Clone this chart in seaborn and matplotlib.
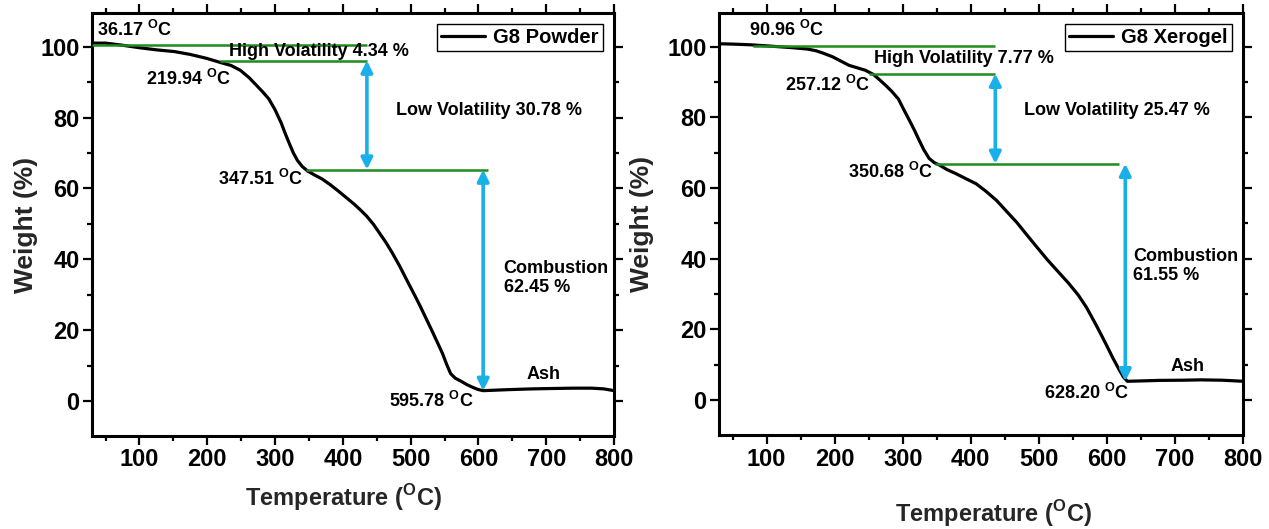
import matplotlib
matplotlib.use("Agg")
import matplotlib.pyplot as plt
import numpy as np
import pandas as pd
import seaborn as sns
from matplotlib import font_manager
from matplotlib.font_manager import FontProperties
from matplotlib.ticker import MultipleLocator

# ---- TGA curves (temperature in °C, weight in %) ----
powder_temp = [30, 50, 75, 100, 125, 152, 175, 199, 220, 235, 249, 262, 273, 282, 291,
               300, 309, 315, 321, 327, 333, 340, 348, 358, 369, 381, 393, 405, 417, 426,
               435, 445, 454, 463, 472, 484, 496, 505, 514, 523, 532, 540, 547, 553, 559,
               566, 574, 583, 592, 600, 607, 620, 646, 680, 707, 740, 767, 785, 800]
powder_weight = [101.0, 101.0, 100.4, 99.7, 99.1, 98.6, 97.8, 96.7, 95.5, 94.7, 93.3, 91.2,
                 89.0, 87.2, 85.2, 82.2, 78.5, 75.5, 72.7, 70.0, 67.9, 66.2, 64.9, 63.8, 62.7,
                 61.1, 59.3, 57.4, 55.5, 53.9, 52.2, 49.9, 47.4, 44.9, 42.1, 38.0, 33.5, 30.2,
                 26.8, 23.2, 19.6, 16.3, 13.4, 10.4, 7.7, 6.4, 5.6, 4.6, 3.8, 3.2, 2.9, 3.0,
                 3.2, 3.4, 3.5, 3.6, 3.6, 3.4, 2.9]

xerogel_temp = [30, 50, 77, 100, 137, 160, 173, 185, 197, 209, 221, 233, 245, 257, 266, 275,
                284, 293.5, 302, 311.5, 318, 323.6, 331, 338.6, 346, 353.6, 365, 377.6, 392,
                407.7, 422, 437.7, 452, 467.8, 482, 497.8, 512, 527.9, 543, 557.9, 570, 582,
                591, 600, 609, 618, 624, 630, 650, 678, 710, 738, 770, 800]
xerogel_weight = [100.8, 100.7, 100.5, 100.2, 99.7, 99.3, 98.8, 98.0, 97.1, 95.9, 94.7, 94.0,
                  93.3, 92.1, 90.6, 89.0, 87.3, 85.2, 82.0, 78.5, 76.0, 73.7, 70.8, 68.4, 67.2,
                  66.5, 65.2, 64.1, 62.7, 61.2, 59.1, 56.5, 53.5, 50.2, 46.8, 43.1, 39.8, 36.4,
                  33.2, 29.7, 26.2, 22.0, 18.7, 15.3, 11.8, 8.6, 6.6, 5.3, 5.4, 5.55, 5.6, 5.7,
                  5.6, 5.3]

# ---- decomposition stages ----
stage_names = ["High Volatility", "Low Volatility", "Combustion"]
powder_onsets = [36.17, 219.94, 347.51, 595.78]
powder_losses = [4.34, 30.78, 62.45]
powder_ash = 2.85
xerogel_onsets = [90.96, 257.12, 350.68, 628.20]
xerogel_losses = [7.77, 25.47, 61.55]
xerogel_ash = 5.3
legend_names = ["G8 Powder", "G8 Xerogel"]


def pick(families):
    for fam in families:
        try:
            font_manager.findfont(FontProperties(family=fam), fallback_to_default=False)
            return fam
        except ValueError:
            continue
    return "DejaVu Sans"


NARROW = pick(["Liberation Sans Narrow", "Arial Narrow", "Liberation Sans"])
WIDE = pick(["Liberation Sans", "Arial"])
is_narrow = "Narrow" in NARROW
TICK_SIZE = 20 if is_narrow else 17
ANN_SIZE = 15 if is_narrow else 13

sns.set_theme(style="ticks")
plt.rcParams.update({
    "font.family": [NARROW, "DejaVu Sans"],
    "font.weight": "bold",
    "axes.linewidth": 2.2,
    "axes.edgecolor": "black",
    "xtick.color": "black",
    "ytick.color": "black",
    "text.color": "black",
})

GREEN = "#1e8c1e"
CYAN = "#19b0ea"
SUP = r"$^{\mathregular{O}}$"

fig = plt.figure(figsize=(12.69, 5.29), dpi=100)
W, H = 1269, 529
axL = fig.add_axes([92 / W, 1 - 436 / H, 522 / W, 423 / H])
axR = fig.add_axes([719 / W, 1 - 435 / H, 524 / W, 422 / H])


def panel(ax, temp, weight, name, onsets, losses, ash, layout):
    df = pd.DataFrame({"Temperature": temp, "Weight": weight})
    sns.lineplot(data=df, x="Temperature", y="Weight", ax=ax, color="black",
                 lw=2.3, sort=False, estimator=None, label=name)

    lv3 = ash + losses[2]
    lv2 = lv3 + losses[1]
    lv1 = lv2 + losses[0]

    # plateau guide lines
    for lvl, (x0, x1) in zip([lv1, lv2, lv3], layout["guides"]):
        ax.hlines(lvl, x0, x1, color=GREEN, lw=1.8, zorder=3)

    # mass-loss arrows
    for (xa, top, bot) in [(layout["arrows"][0], lv2, lv3), (layout["arrows"][1], lv3, ash)]:
        ax.annotate("", xy=(xa, bot), xytext=(xa, top),
                    arrowprops=dict(arrowstyle="<|-|>", color=CYAN, lw=2.6,
                                    mutation_scale=17, shrinkA=0, shrinkB=0),
                    zorder=4)

    # temperature labels
    for t, (tx, ty) in zip(onsets, layout["temps"]):
        ax.text(tx, ty, f"{t:.2f} " + SUP + "C", fontsize=ANN_SIZE, ha="left", va="center")

    # stage labels
    hx, hy = layout["high"]
    ax.text(hx, hy, f"{stage_names[0]} {losses[0]:.2f} %", fontsize=ANN_SIZE,
            ha="left", va="center")
    lx, ly = layout["low"]
    ax.text(lx, ly, f"{stage_names[1]} {losses[1]:.2f} %", fontsize=ANN_SIZE,
            ha="left", va="center")
    cx, cy = layout["comb"]
    ax.text(cx, cy, f"{stage_names[2]}\n{losses[2]:.2f} %", fontsize=ANN_SIZE,
            ha="left", va="center", linespacing=1.15)
    ax.text(*layout["ash"], "Ash", fontsize=ANN_SIZE, ha="left", va="center")

    ax.set_xlim(30, 800)
    ax.set_ylim(-9.9, 109.5)
    ax.xaxis.set_major_locator(MultipleLocator(100))
    ax.xaxis.set_minor_locator(MultipleLocator(50))
    ax.yaxis.set_major_locator(MultipleLocator(20))
    ax.yaxis.set_minor_locator(MultipleLocator(10))
    ax.tick_params(which="both", direction="out", top=True, right=True, width=1.6,
                   labelsize=TICK_SIZE)
    ax.tick_params(which="major", length=6.5, pad=2.5)
    ax.tick_params(which="minor", length=3.5)
    for s in ax.spines.values():
        s.set_linewidth(2.2)

    ax.set_xlabel("Temperature (" + SUP + "C)", fontfamily=WIDE, fontweight="bold",
                  fontsize=17)
    ax.set_ylabel("Weight (%)", fontfamily=WIDE, fontweight="bold", fontsize=19)

    leg = ax.legend(loc="upper right", bbox_to_anchor=(1 - 11 / 522, 1 - 11 / 423),
                    borderaxespad=0, frameon=True, fancybox=False, edgecolor="black",
                    framealpha=1, borderpad=0.2, handlelength=2.2, handletextpad=0.4,
                    prop=FontProperties(family=WIDE, weight="bold", size=14.5))
    leg.get_frame().set_linewidth(1.0)


panel(axL, powder_temp, powder_weight, legend_names[0], powder_onsets, powder_losses,
      powder_ash,
      dict(guides=[(30, 435.5), (218.7, 435.5), (345, 614)],
           arrows=[435.5, 607],
           temps=[(38, 104.6), (110, 90.9), (215.7, 62.7), (468.7, 0.0)],
           high=(232.5, 98.6), low=(477.7, 82.0), comb=(637.3, 34.7), ash=(670.5, 7.5)))

panel(axR, xerogel_temp, xerogel_weight, legend_names[1], xerogel_onsets, xerogel_losses,
      xerogel_ash,
      dict(guides=[(80, 436), (251, 436), (347.6, 618)],
           arrows=[436, 627],
           temps=[(74, 104.6), (126.4, 89.2), (220, 64.6), (506.9, 1.9)],
           high=(257.5, 96.5), low=(478.6, 82.0), comb=(639, 37.9), ash=(693, 9.6)))

axL.xaxis.set_label_coords(0.481, -0.109)
axL.yaxis.set_label_coords(-0.103, 0.5)
axR.xaxis.set_label_coords(0.524, -0.150)
axR.yaxis.set_label_coords(-0.124, 0.5)

fig.savefig("out.png", dpi=100)
